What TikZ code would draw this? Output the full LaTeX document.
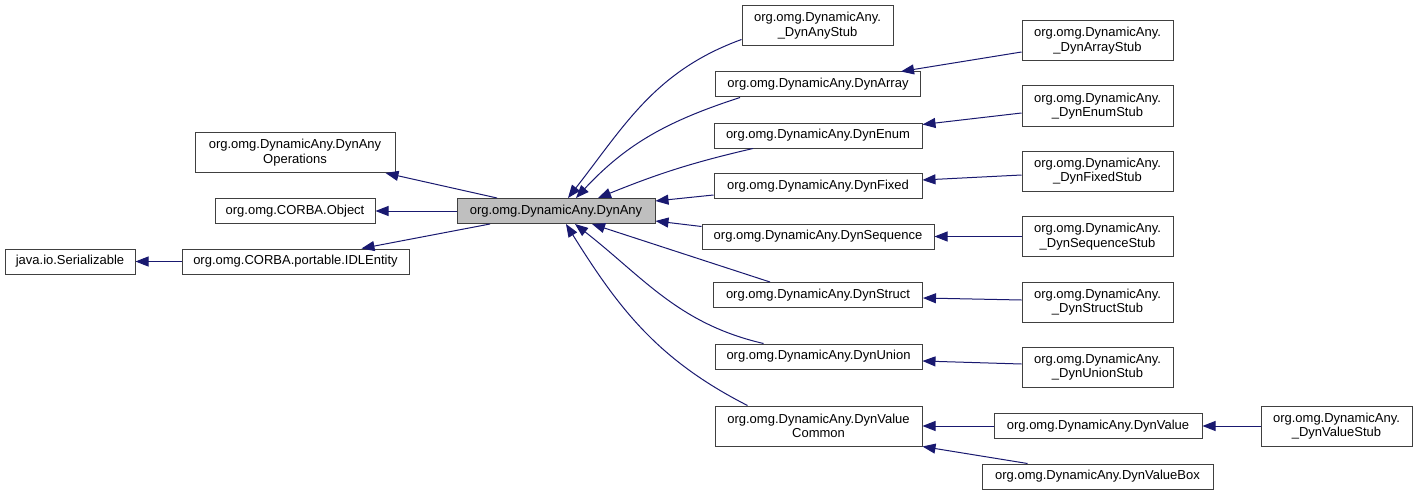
\documentclass[tikz,border=0pt]{standalone}
\usepackage{fontspec}
\setmainfont{Liberation Sans}
\usetikzlibrary{arrows.meta}
\definecolor{edgeblue}{RGB}{25,25,112}
\begin{document}
\begin{tikzpicture}[x=1pt,y=-1pt,
  cls/.style={draw=black!75,line width=1pt,fill=white,inner sep=0pt,align=center,
    font=\fontsize{13}{14.5}\selectfont,minimum height=25},
  cls2/.style={cls,minimum height=40},
  inh/.style={draw=edgeblue,line width=1pt,-{Triangle[length=13pt,width=10pt]}}]
\useasboundingbox[fill=white] (0,0) rectangle (1417,495);
\node[cls,fill=gray!50,minimum width=198] (dynany) at (556,211) {org.omg.DynamicAny.DynAny};
\node[cls2,minimum width=200] (dynops) at (295,152.5) {org.omg.DynamicAny.DynAny\\Operations};
\node[cls,minimum width=160] (object) at (295,211) {org.omg.CORBA.Object};
\node[cls,minimum width=130] (serial) at (70,261.5) {java.io.Serializable};
\node[cls,minimum width=227] (idl) at (295.5,261.5) {org.omg.CORBA.portable.IDLEntity};
\node[cls2,minimum width=151] (anystub) at (817.5,25.5) {org.omg.DynamicAny.\\\_DynAnyStub};
\node[cls,minimum width=205] (array) at (818,84.5) {org.omg.DynamicAny.DynArray};
\node[cls,minimum width=208] (enum) at (818,135.5) {org.omg.DynamicAny.DynEnum};
\node[cls,minimum width=208] (fixed) at (818,186) {org.omg.DynamicAny.DynFixed};
\node[cls,minimum width=232] (seq) at (818,236.5) {org.omg.DynamicAny.DynSequence};
\node[cls,minimum width=209] (struct) at (818,295) {org.omg.DynamicAny.DynStruct};
\node[cls,minimum width=207] (union) at (818.5,356.5) {org.omg.DynamicAny.DynUnion};
\node[cls2,minimum width=207] (valcommon) at (818.5,426) {org.omg.DynamicAny.DynValue\\Common};
\node[cls2,minimum width=151] (arraystub) at (1097.5,40.5) {org.omg.DynamicAny.\\\_DynArrayStub};
\node[cls2,minimum width=151] (enumstub) at (1097.5,106) {org.omg.DynamicAny.\\\_DynEnumStub};
\node[cls2,minimum width=151] (fixedstub) at (1097.5,171) {org.omg.DynamicAny.\\\_DynFixedStub};
\node[cls2,minimum width=151] (seqstub) at (1097.5,236.5) {org.omg.DynamicAny.\\\_DynSequenceStub};
\node[cls2,minimum width=151] (structstub) at (1097.5,302) {org.omg.DynamicAny.\\\_DynStructStub};
\node[cls2,minimum width=151] (unionstub) at (1097.5,367) {org.omg.DynamicAny.\\\_DynUnionStub};
\node[cls,minimum width=208] (value) at (1098,426) {org.omg.DynamicAny.DynValue};
\node[cls2,minimum width=151] (valuestub) at (1336.5,426) {org.omg.DynamicAny.\\\_DynValueStub};
\node[cls,minimum width=231] (valuebox) at (1097.5,476.5) {org.omg.DynamicAny.DynValueBox};
% DynAny and its bases
\draw[inh] ([xshift=-59]dynany.north) -- ([xshift=-10]dynops.south east);
\draw[inh] (dynany.west) -- (object.east);
\draw[inh] ([xshift=-66]dynany.south) -- ([xshift=66]idl.north);
\draw[inh] (idl.west) -- (serial.east);
% subclasses of DynAny
\draw[inh] ([yshift=-14]anystub.west) to[out=200,in=52] ([xshift=12]dynany.north);
\draw[inh] ([xshift=-78]array.south) to[out=198,in=47] ([xshift=20]dynany.north);
\draw[inh] ([xshift=-65]enum.south) to[out=193,in=22] ([xshift=42]dynany.north);
\draw[inh] ([yshift=-9]fixed.west) -- ([yshift=10]dynany.east);
\draw[inh] ([yshift=10]seq.west) -- ([yshift=-10]dynany.east);
\draw[inh] ([xshift=-48]struct.north) -- ([xshift=36]dynany.south);
\draw[inh] ([xshift=-55]union.north) to[out=167,in=322] ([xshift=19]dynany.south);
\draw[inh] ([xshift=-71]valcommon.north) to[out=153,in=302] ([xshift=10]dynany.south);
% stubs
\draw[inh] ([yshift=-11.5]arraystub.west) -- ([xshift=-20]array.north east);
\draw[inh] ([yshift=-7]enumstub.west) -- ([yshift=11]enum.east);
\draw[inh] ([yshift=-4]fixedstub.west) -- ([yshift=6]fixed.east);
\draw[inh] (seqstub.west) -- (seq.east);
\draw[inh] ([yshift=2]structstub.west) -- ([yshift=-3]struct.east);
\draw[inh] ([yshift=3]unionstub.west) -- ([yshift=-4.5]union.east);
\draw[inh] (value.west) -- (valcommon.east);
\draw[inh] (valuestub.west) -- (value.east);
\draw[inh] ([xshift=-70]valuebox.north) -- (valcommon.south east);
\end{tikzpicture}
\end{document}
